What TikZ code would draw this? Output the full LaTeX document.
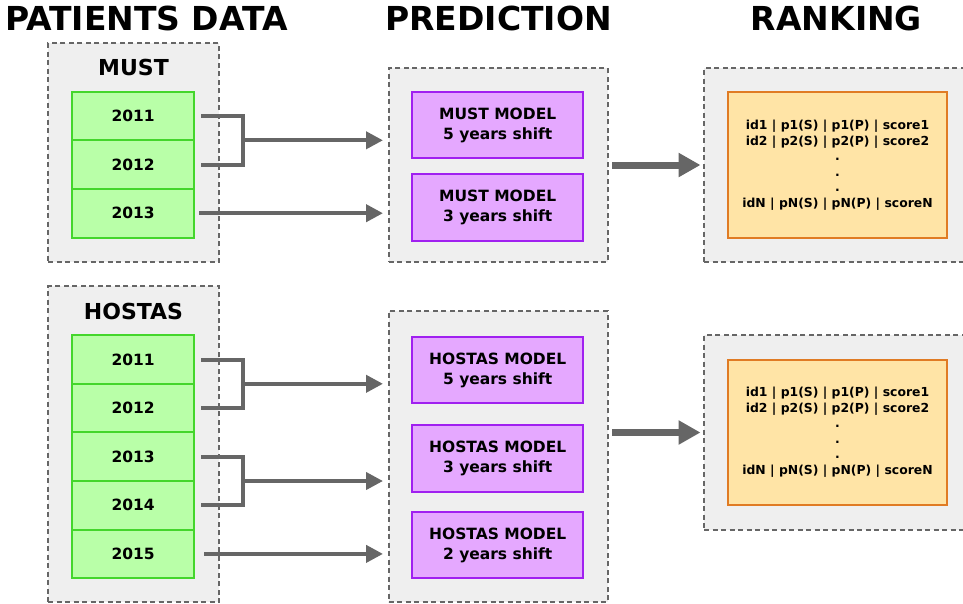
\documentclass[tikz,border=0pt]{standalone}
\usepackage{fontspec}
\setmainfont{DejaVu Sans}
\usetikzlibrary{arrows.meta,calc}

\definecolor{panelfill}{HTML}{EFEFEF}
\definecolor{dashgray}{HTML}{666666}
\definecolor{arrowgray}{HTML}{666666}
\definecolor{greenfill}{HTML}{B9FFA8}
\definecolor{greenline}{HTML}{44D62C}
\definecolor{purplefill}{HTML}{E5A8FF}
\definecolor{purpleline}{HTML}{A020F0}
\definecolor{orangefill}{HTML}{FFE4A6}
\definecolor{orangeline}{HTML}{E07B24}

\begin{document}
\begin{tikzpicture}[x=1pt,y=-1pt,
  panel/.style={draw=dashgray, fill=panelfill, line width=2pt,
    dash pattern=on 5pt off 3.5pt, inner sep=0pt, outer sep=0pt},
  yearbox/.style={draw=greenline, fill=greenfill, line width=2pt,
    minimum width=122pt, minimum height=48.6pt, inner sep=0pt, outer sep=0pt,
    font=\fontsize{15.5}{18}\selectfont\bfseries},
  modelbox/.style={draw=purpleline, fill=purplefill, line width=2pt,
    minimum width=171pt, minimum height=66.5pt, inner sep=0pt, outer sep=0pt,
    align=center, font=\fontsize{15.5}{20}\selectfont\bfseries},
  rankbox/.style={draw=orangeline, fill=orangefill, line width=2pt,
    minimum width=219.5pt, minimum height=145.5pt, inner sep=0pt, outer sep=0pt,
    align=center, font=\fontsize{12.4}{15.5}\selectfont\bfseries},
  heading/.style={font=\fontsize{33}{38}\selectfont\bfseries, anchor=base},
  grouplabel/.style={font=\fontsize{22}{26}\selectfont\bfseries},
  conn/.style={draw=arrowgray, line width=4pt},
  connarrow/.style={conn, -{Triangle[length=17pt,width=17pt]}},
  bigarrow/.style={draw=arrowgray, line width=7pt, -{Triangle[length=22pt,width=23pt]}}
]
\useasboundingbox (0,0) rectangle (963,603);
\clip (0,0) rectangle (963,603);

% column headings
\node[heading] (hData) at (146.5,30) {PATIENTS DATA};
\node[heading] (hPred) at (498.5,30) {PREDICTION};
\node[heading] (hRank) at (836.5,30) {RANKING};

% container panels
\node[panel, minimum width=171pt, minimum height=219pt] (mustPanel) at (133.5,152.5) {};
\node[panel, minimum width=171pt, minimum height=316pt] (hostasPanel) at (133.5,444) {};
\node[panel, minimum width=219pt, minimum height=194pt] (predTop) at (498,165) {};
\node[panel, minimum width=219pt, minimum height=291pt] (predBot) at (498,456.5) {};
\node[panel, minimum width=276pt, minimum height=194pt] (rankTop) at (842,165) {};
\node[panel, minimum width=276pt, minimum height=195pt] (rankBot) at (842,432.5) {};

% MUST data
\node[grouplabel] (mustLabel) at (133.5,67) {MUST};
\node[yearbox] (m11) at (133.2,116) {2011};
\node[yearbox] (m12) at (133.2,164.6) {2012};
\node[yearbox] (m13) at (133.2,213.2) {2013};

% HOSTAS data
\node[grouplabel] (hostasLabel) at (133.5,311) {HOSTAS};
\node[yearbox] (h11) at (133.2,359.5) {2011};
\node[yearbox] (h12) at (133.2,408.1) {2012};
\node[yearbox] (h13) at (133.2,456.7) {2013};
\node[yearbox] (h14) at (133.2,505.3) {2014};
\node[yearbox] (h15) at (133.2,553.9) {2015};

% models
\node[modelbox] (mm5) at (497.7,125.2) {MUST MODEL\\5 years shift};
\node[modelbox] (mm3) at (497.7,207.7) {MUST MODEL\\3 years shift};
\node[modelbox] (hm5) at (497.7,370) {HOSTAS MODEL\\5 years shift};
\node[modelbox] (hm3) at (497.7,458.3) {HOSTAS MODEL\\3 years shift};
\node[modelbox] (hm2) at (497.7,545) {HOSTAS MODEL\\2 years shift};

% rankings
\node[rankbox] (rk1) at (837.5,165) {id1 | p1(S) | p1(P) | score1\\id2 | p2(S) | p2(P) | score2\\.\\.\\.\\idN | pN(S) | pN(P) | scoreN};
\node[rankbox] (rk2) at (837.5,432.3) {id1 | p1(S) | p1(P) | score1\\id2 | p2(S) | p2(P) | score2\\.\\.\\.\\idN | pN(S) | pN(P) | scoreN};

% MUST connectors
\draw[conn] ([xshift=7pt]m11.east) -| ([xshift=49pt]m12.east) -- ([xshift=7pt]m12.east);
\coordinate (j1) at ([xshift=49pt]m11.south east);
\draw[connarrow] (j1) -- ([xshift=-5.5pt]j1 -| predTop.west);
\draw[connarrow] ([xshift=5pt]m13.east) -- ([xshift=-5.5pt]m13.east -| predTop.west);

% HOSTAS connectors
\draw[conn] ([xshift=7pt]h11.east) -| ([xshift=49pt]h12.east) -- ([xshift=7pt]h12.east);
\coordinate (j2) at ([xshift=49pt]h11.south east);
\draw[connarrow] (j2) -- ([xshift=-5.5pt]j2 -| predBot.west);
\draw[conn] ([xshift=7pt]h13.east) -| ([xshift=49pt]h14.east) -- ([xshift=7pt]h14.east);
\coordinate (j3) at ([xshift=49pt]h13.south east);
\draw[connarrow] (j3) -- ([xshift=-5.5pt]j3 -| predBot.west);
\draw[connarrow] ([xshift=10pt]h15.east) -- ([xshift=-5.5pt]h15.east -| predBot.west);

% prediction to ranking
\draw[bigarrow] ([xshift=4.5pt]predTop.east) -- ([xshift=-3.5pt]rankTop.west);
\draw[bigarrow] ([xshift=4.5pt]rankBot.west -| predBot.east) -- ([xshift=-3.5pt]rankBot.west);
\end{tikzpicture}
\end{document}
